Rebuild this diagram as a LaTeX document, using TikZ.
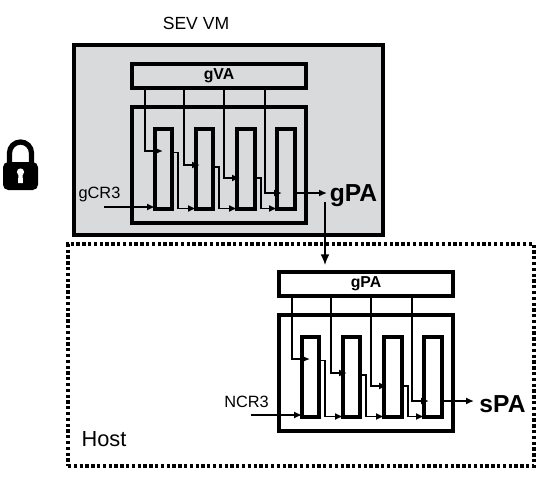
\documentclass[tikz,border=0pt]{standalone}
\usepackage{fontspec}
\setmainfont{Liberation Sans}
\usetikzlibrary{arrows.meta}

\definecolor{vmgray}{HTML}{D9DADB}
\tikzset{
  box/.style={draw, line width=1.8pt, inner sep=0pt, outer sep=0pt, anchor=north west},
  wire/.style={line width=0.9pt, -{Latex[length=4.5pt,width=4pt]}},
}

\begin{document}
\begin{tikzpicture}[x=0.02cm, y=-0.02cm]
    \useasboundingbox (0,0) rectangle (554,495);

    \node[box, fill=vmgray, minimum width=309*0.02cm, minimum height=190*0.02cm] (vm) at (74,45) {};
    \node[box, line width=1.9pt, dash pattern=on 1.9pt off 1.4pt, minimum width=466*0.02cm, minimum height=222*0.02cm] (host) at (68,244) {};

    \node (vmlabel) at (196,23) {\fontsize{10}{12}\selectfont SEV VM};
    \node (hostlabel) at (104,439) {\fontsize{12.4}{14}\selectfont Host};

    % the same page walk twice
    \foreach \pre/\dx/\dy/\top/\cr in {g/0/0/gVA/gCR3, n/147/208/gPA/NCR3} {
      \begin{scope}[shift={(\dx,\dy)}, name prefix=\pre-]
        \node[box, minimum width=174*0.02cm, minimum height=24*0.02cm, font=\bfseries\fontsize{9}{11}\selectfont] (va) at (132,64) {\top};
        \node[box, minimum width=174*0.02cm, minimum height=116*0.02cm] (walk) at (132,107) {};
        \node[box, minimum width=17*0.02cm, minimum height=80*0.02cm] (col1) at (155,129) {};
        \node[box, minimum width=17*0.02cm, minimum height=80*0.02cm] (col2) at (196,129) {};
        \node[box, minimum width=18*0.02cm, minimum height=80*0.02cm] (col3) at (237,129) {};
        \node[box, minimum width=18*0.02cm, minimum height=80*0.02cm] (col4) at (277,129) {};

        \foreach \i/\xd/\yd/\xt in {1/145/151/163, 2/184/165/200, 3/224/178/240, 4/265/193/282} {
          \coordinate (drop\i) at (\xd,\yd);
          \coordinate (tip\i) at (\xt,\yd);
          \draw[wire] (va.south -| drop\i) |- (tip\i);
        }

        \coordinate (step1) at (172,152.5);
        \coordinate (step2) at (213,167);
        \coordinate (step3) at (253,178);
        \coordinate (bend1) at (178,208.5);
        \coordinate (bend2) at (219,208.5);
        \coordinate (bend3) at (261,208.5);
        \draw[wire] (step1) -| (bend1) -- (bend1 -| col2.west);
        \draw[wire] (step2) -| (bend2) -- (bend2 -| col3.west);
        \draw[wire] (step3) -| (bend3) -- (bend3 -| col4.west);

        \coordinate (crstart) at (104,207);
        \draw[wire] (crstart) -- (crstart -| col1.west);
        \node (crlabel) at (99.5,194) {\fontsize{9.3}{11}\selectfont \cr};

        \coordinate (outend) at (327,193);
        \draw[wire] (outend -| col4.east) -- (outend);
      \end{scope}
    }

    \node (gpalabel) at (353.5,195.5) {\bfseries\fontsize{14}{16}\selectfont gPA};
    \node (spalabel) at (502.5,404.5) {\bfseries\fontsize{14}{16}\selectfont sPA};

    \coordinate (hopstart) at (325,202);
    \coordinate (hopend) at (325,265);
    \draw[line width=0.9pt, -{Latex[length=6pt,width=5pt]}] (hopstart) -- (hopend);

    % lock
    \draw[line width=3pt] (9.5,165) -- (9.5,153) arc[start angle=180, end angle=0, x radius=11, y radius=-11] -- (31.5,165);
    \fill[rounded corners=3pt] (3,162) rectangle (38,190);
    \fill[white] (20.5,172) circle (3.6);
    \fill[white] (18.5,173) -- (22.5,173) -- (23,183) -- (18,183) -- cycle;
\end{tikzpicture}
\end{document}
